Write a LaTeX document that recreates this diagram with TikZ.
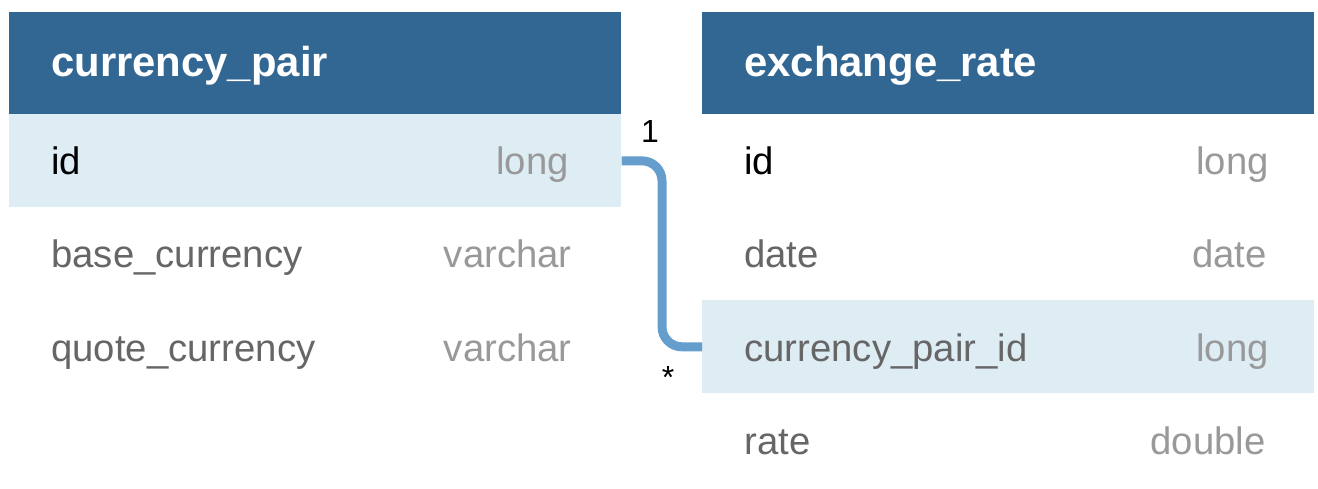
\documentclass[tikz,border=0pt]{standalone}
\usepackage{fontspec}
\setmainfont{Liberation Sans}
\usetikzlibrary{positioning}
\definecolor{hdrblue}{RGB}{51,103,147}
\definecolor{keyrow}{RGB}{222,236,244}
\definecolor{linkblue}{RGB}{101,158,204}
\definecolor{colname}{RGB}{102,102,102}
\definecolor{coltype}{RGB}{153,153,153}
\begin{document}
\begin{tikzpicture}[x=0.02cm,y=-0.02cm,
  hdr/.style={fill=hdrblue,minimum width=12.24cm,minimum height=2.04cm,inner sep=0pt,anchor=north west},
  fieldrow/.style={minimum width=12.24cm,minimum height=1.86cm,inner sep=0pt,anchor=north west},
  keyfill/.style={fill=keyrow},
  title/.style={anchor=base west,inner sep=0pt,text=white,font=\fontsize{23.8}{28}\selectfont\bfseries},
  fname/.style={anchor=base west,inner sep=0pt,text=colname,font=\fontsize{21.8}{26}\selectfont},
  ftype/.style={anchor=base east,inner sep=0pt,text=coltype,font=\fontsize{21.8}{26}\selectfont},
  mult/.style={anchor=base,inner sep=0pt,font=\fontsize{18.2}{22}\selectfont},
  link/.style={draw=linkblue,line width=0.18cm,rounded corners=0.4cm}]
\useasboundingbox (0,0) rectangle (1318,489);
% currency_pair
\node[hdr] (cphead) at (9,12) {};
\node[title] (cptitle) at (51,77) {currency\_pair};
\node[fieldrow,keyfill] (cpid) at (9,114) {};
\node[fname,text=black] (cpidname) at (51,175) {id};
\node[ftype] (cpidtype) at (569,175) {long};
\node[fieldrow] (cpbase) at (9,207) {};
\node[fname] (cpbasename) at (51,268) {base\_currency};
\node[ftype] (cpbasetype) at (572,268) {varchar};
\node[fieldrow] (cpquote) at (9,300) {};
\node[fname] (cpquotename) at (51,361) {quote\_currency};
\node[ftype] (cpquotetype) at (572,361) {varchar};
% exchange_rate
\node[hdr] (erhead) at (702,12) {};
\node[title] (ertitle) at (744,77) {exchange\_rate};
\node[fieldrow] (erid) at (702,114) {};
\node[fname,text=black] (eridname) at (744,175) {id};
\node[ftype] (eridtype) at (1269,175) {long};
\node[fieldrow] (erdate) at (702,207) {};
\node[fname] (erdatename) at (744,268) {date};
\node[ftype] (erdatetype) at (1267,268) {date};
\node[fieldrow,keyfill] (ercp) at (702,300) {};
\node[fname] (ercpname) at (744,361) {currency\_pair\_id};
\node[ftype] (ercptype) at (1269,361) {long};
\node[fieldrow] (errate) at (702,393) {};
\node[fname] (erratename) at (744,454) {rate};
\node[ftype] (erratetype) at (1266,454) {double};
% relation
\coordinate (bend) at (662,250);
\draw[link] (cpid.east) -| (bend) |- (ercp.west);
\node[mult] (one) at (650,143) {1};
\node[mult] (many) at (668,388) {*};
\end{tikzpicture}
\end{document}
